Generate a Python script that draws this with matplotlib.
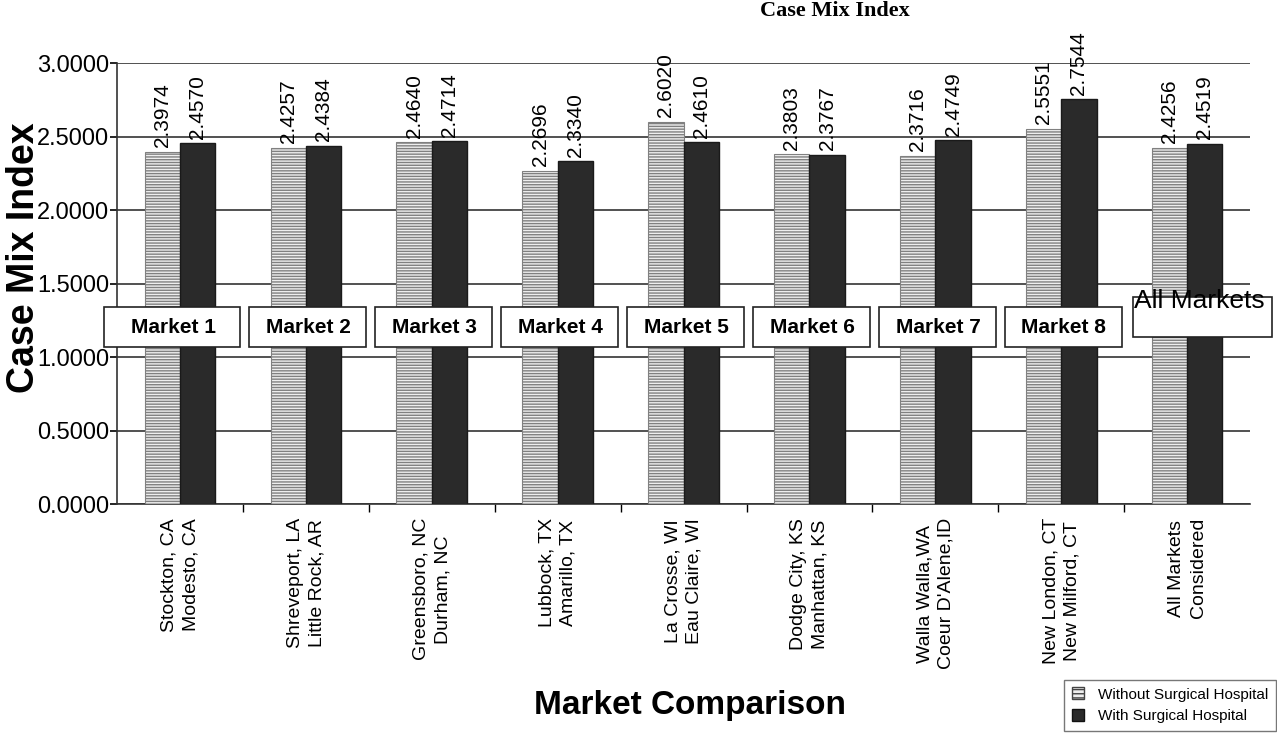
import numpy as np
import matplotlib.pyplot as plt
from matplotlib.patches import Rectangle, Patch

plt.rcParams['font.family'] = ['Liberation Sans', 'DejaVu Sans']

markets = ['Stockton, CA\nModesto, CA', 'Shreveport, LA\nLittle Rock, AR',
           'Greensboro, NC\nDurham, NC', 'Lubbock, TX\nAmarillo, TX',
           'La Crosse, WI\nEau Claire, WI', 'Dodge City, KS\nManhattan, KS',
           "Walla Walla,WA\nCoeur D'Alene,ID", 'New London, CT\nNew Milford, CT',
           'All Markets\nConsidered']
box_labels = ['Market 1', 'Market 2', 'Market 3', 'Market 4', 'Market 5',
              'Market 6', 'Market 7', 'Market 8', 'All Markets']
without_sh = [2.3974, 2.4257, 2.4640, 2.2696, 2.6020, 2.3803, 2.3716, 2.5551, 2.4256]
with_sh = [2.4570, 2.4384, 2.4714, 2.3340, 2.4610, 2.3767, 2.4749, 2.7544, 2.4519]

x = np.arange(len(markets))
w = 0.28

fig = plt.figure(figsize=(12.77, 7.35), dpi=100)
ax = fig.add_axes([0.0916, 0.314, 0.8874, 0.600])

ax.bar(x - w / 2, without_sh, w, facecolor='#eeeeee', edgecolor='#808080',
       hatch='------', linewidth=0.8, zorder=3)
ax.bar(x + w / 2, with_sh, w, color='#2a2a2a', edgecolor='#1a1a1a', zorder=3)

for xi, v in zip(x - w / 2, without_sh):
    ax.text(xi, v + 0.03, f'{v:.4f}', rotation=90, ha='center', va='bottom',
            fontsize=15, clip_on=False)
for xi, v in zip(x + w / 2, with_sh):
    ax.text(xi, v + 0.03, f'{v:.4f}', rotation=90, ha='center', va='bottom',
            fontsize=15, clip_on=False)

# market boxes across the bars
for i, lab in enumerate(box_labels):
    if i == 0:
        ax.add_patch(Rectangle((i - 0.6, 1.07), 1.08, 0.27, facecolor='white',
                               edgecolor='#222222', lw=1.2, zorder=5, clip_on=False))
        ax.text(i - 0.05, 1.205, lab, ha='center', va='center', fontsize=15,
                fontweight='bold', zorder=6)
    elif i < len(box_labels) - 1:
        ax.add_patch(Rectangle((i - 0.45, 1.07), 0.93, 0.27, facecolor='white',
                               edgecolor='#222222', lw=1.2, zorder=5, clip_on=False))
        ax.text(i + 0.02, 1.205, lab, ha='center', va='center', fontsize=15,
                fontweight='bold', zorder=6)
    else:
        ax.add_patch(Rectangle((i - 0.43, 1.14), 1.1, 0.27, facecolor='white',
                               edgecolor='#222222', lw=1.2, zorder=5, clip_on=False))
        ax.text(i - 0.42, 1.38, lab, ha='left', va='center', fontsize=19,
                zorder=6, clip_on=False)

ax.set_xlim(-0.5, len(markets) - 0.5)
ax.set_ylim(0, 3.0)
ax.set_yticks(np.arange(0, 3.01, 0.5))
ax.set_yticklabels([f'{t:.4f}' for t in np.arange(0, 3.01, 0.5)], fontsize=17)
ax.yaxis.grid(True, color='#333333', lw=1.2, zorder=0)
ax.tick_params(axis='y', length=5, width=1.2, pad=0.5)

ax.set_xticks(x)
ax.set_xticklabels(markets, rotation=90, fontsize=14, va='top', ha='center',
                   linespacing=1.35)
ax.set_xticks(np.arange(0.5, len(markets) - 1, 1), minor=True)
ax.tick_params(axis='x', which='major', length=0, pad=10)
ax.tick_params(axis='x', which='minor', length=6, width=1)

for s in ['top', 'right']:
    ax.spines[s].set_visible(False)
ax.spines['left'].set_color('#333333')
ax.spines['bottom'].set_color('#333333')
ax.spines['left'].set_linewidth(1.2)
ax.spines['bottom'].set_linewidth(1.2)

ax.set_ylabel('Case Mix Index', fontsize=27, fontweight='bold')
ax.yaxis.set_label_coords(-0.066, 0.56)
fig.text(0.54, 0.04, 'Market Comparison', ha='center', va='center',
         fontsize=24, fontweight='bold')
fig.text(0.654, 0.998, 'Case Mix Index', ha='center', va='top', fontsize=16,
         fontweight='bold', family='Liberation Serif')

handles = [Patch(facecolor='#eeeeee', edgecolor='#444444', hatch='----'),
           Patch(facecolor='#2a2a2a', edgecolor='#111111')]
fig.legend(handles, ['Without Surgical Hospital', 'With Surgical Hospital'],
           loc='lower right', bbox_to_anchor=(1.005, -0.005), fontsize=11,
           frameon=True, fancybox=False, edgecolor='#555555',
           handlelength=0.8, handleheight=0.8, handletextpad=0.9,
           labelspacing=0.5, borderpad=0.5)

plt.savefig('out.png')
